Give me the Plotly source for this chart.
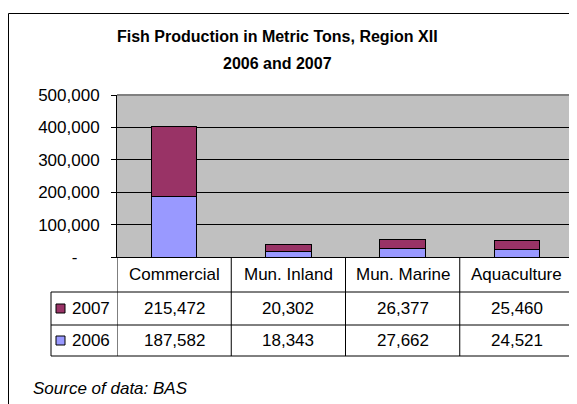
import plotly.graph_objects as go

# ---- data ----
categories = ["Commercial", "Mun. Inland", "Mun. Marine", "Aquaculture"]
prod_2006 = [187582, 18343, 27662, 24521]
prod_2007 = [215472, 20302, 26377, 25460]
y_tick_vals = [0, 100000, 200000, 300000, 400000, 500000]
y_tick_text = ["-\u00a0\u00a0\u00a0\u00a0\u2009", "100,000", "200,000", "300,000", "400,000", "500,000"]
title_lines = ["<b>Fish Production in Metric Tons, Region XII</b>", "<b>2006 and 2007</b>"]
source_text = "<i>Source of data: BAS</i>"

# ---- style / layout (page pixel targets; the page body has an 8px margin) ----
OFF = 8
PAGE_W, PAGE_H = 577, 404
W, H = PAGE_W - OFF, PAGE_H - OFF
PL, PR, PT, PB = 117, 574, 95, 257  # plot area in page pixels
FONT = "Liberation Sans, Arial, sans-serif"
FS = 17
C2006 = "#9999FF"
C2007 = "#993366"
PLOT_BG = "#C0C0C0"


def px_x(p):
    return (p - PL) / (PR - PL)


def px_y(p):
    return (PB - p) / (PB - PT)


fig = go.Figure()
fig.add_trace(go.Bar(x=categories, y=prod_2006, name="2006", marker_color=C2006,
                     marker_line=dict(color="black", width=1), width=0.4))
fig.add_trace(go.Bar(x=categories, y=prod_2007, name="2007", marker_color=C2007,
                     marker_line=dict(color="black", width=1), width=0.4))

shapes = []
line_k = dict(color="black", width=1)

# plot border (gray top/right)
shapes.append(dict(type="line", xref="paper", yref="paper", x0=0, x1=1, y0=1, y1=1,
                   line=dict(color="#808080", width=2), layer="above"))
shapes.append(dict(type="line", xref="paper", yref="paper", x0=1, x1=1, y0=0, y1=1,
                   line=dict(color="#808080", width=2), layer="above"))

# outer chart frame
shapes.append(dict(type="line", xref="paper", yref="paper", x0=px_x(8.5), x1=px_x(590),
                   y0=px_y(13.5), y1=px_y(13.5), line=line_k))
shapes.append(dict(type="line", xref="paper", yref="paper", x0=px_x(8.5), x1=px_x(8.5),
                   y0=px_y(13.5), y1=px_y(420), line=line_k))

# data table grid
row_tops = [292, 325, 356]
n = len(categories)
for i in range(n + 1):
    shapes.append(dict(type="line", xref="x", yref="paper", x0=i - 0.5, x1=i - 0.5,
                       y0=px_y(PB), y1=px_y(row_tops[-1]), line=line_k, layer="above"))
shapes.append(dict(type="line", xref="paper", yref="paper", x0=px_x(51), x1=px_x(51),
                   y0=px_y(row_tops[0]), y1=px_y(row_tops[-1]), line=line_k))
for yy in row_tops:
    shapes.append(dict(type="line", xref="paper", yref="paper", x0=px_x(51), x1=1,
                       y0=px_y(yy), y1=px_y(yy), line=line_k))

annotations = []
# title (two lines)
for txt, yc in zip(title_lines, [37, 63]):
    annotations.append(dict(text=txt, xref="paper", yref="paper", x=px_x(277), y=px_y(yc),
                            showarrow=False, xanchor="center", yanchor="middle",
                            font=dict(family=FONT, size=16, color="black")))
# header row
for i, c in enumerate(categories):
    annotations.append(dict(text=c, xref="x", yref="paper", x=i, y=px_y(274.5),
                            showarrow=False, xanchor="center", yanchor="middle",
                            font=dict(family=FONT, size=FS, color="black")))
# data rows
rows = [("2007", prod_2007, C2007), ("2006", prod_2006, C2006)]
for r, (label, vals, col) in enumerate(rows):
    yc = (row_tops[r] + row_tops[r + 1]) / 2
    annotations.append(dict(text=label, xref="paper", yref="paper", x=px_x(70), y=px_y(yc),
                            showarrow=False, xanchor="left", yanchor="middle",
                            font=dict(family=FONT, size=FS, color="black")))
    shapes.append(dict(type="rect", xref="paper", yref="paper", x0=px_x(56), x1=px_x(65),
                       y0=px_y(yc - 4.5), y1=px_y(yc + 4.5), fillcolor=col,
                       line=dict(color="black", width=1)))
    for i, v in enumerate(vals):
        annotations.append(dict(text=f"{v:,}", xref="x", yref="paper", x=i, y=px_y(yc),
                                showarrow=False, xanchor="center", yanchor="middle",
                                font=dict(family=FONT, size=FS, color="black")))
# source
annotations.append(dict(text=source_text, xref="paper", yref="paper", x=px_x(31), y=px_y(388),
                        showarrow=False, xanchor="left", yanchor="middle",
                        font=dict(family=FONT, size=FS, color="black")))

fig.update_layout(
    width=W, height=H,
    margin=dict(l=PL - OFF, r=W - (PR - OFF), t=PT - OFF, b=H - (PB - OFF), pad=0),
    paper_bgcolor="white",
    plot_bgcolor=PLOT_BG,
    barmode="stack",
    showlegend=False,
    font=dict(family=FONT, size=FS, color="black"),
    shapes=shapes,
    annotations=annotations,
    xaxis=dict(showticklabels=False, showgrid=False, ticks="", zeroline=False,
               showline=True, linecolor="black", linewidth=1, range=[-0.5, n - 0.5],
               fixedrange=True),
    yaxis=dict(range=[0, 500000], tickvals=y_tick_vals, ticktext=y_tick_text,
               showgrid=True, gridcolor="black", gridwidth=1, zeroline=False,
               showline=True, linecolor="black", linewidth=1, ticks="outside",
               ticklen=5, tickcolor="black", tickfont=dict(family=FONT, size=FS),
               ticklabelstandoff=8, fixedrange=True),
)

fig.write_html("out.html")
